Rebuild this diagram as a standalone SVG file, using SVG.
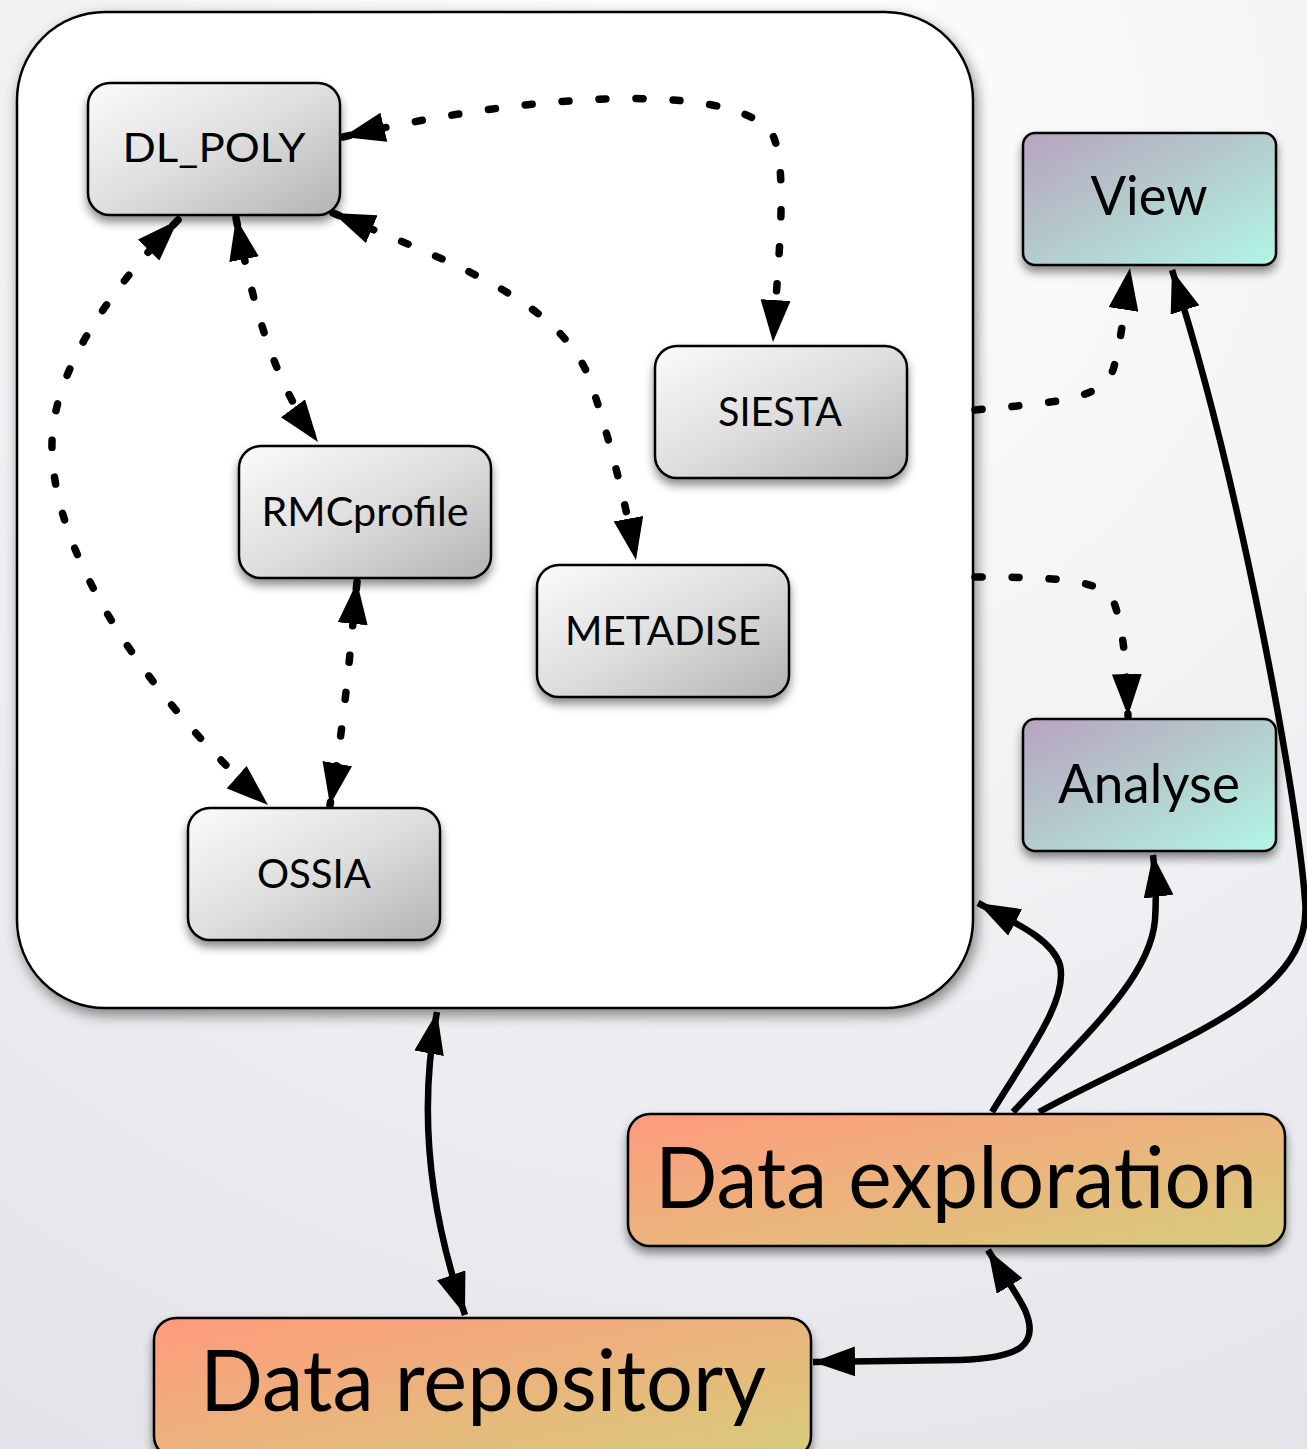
<svg xmlns="http://www.w3.org/2000/svg" width="1307" height="1449" viewBox="0 0 1307 1449">
<defs>
  <radialGradient id="bg" cx="750" cy="150" r="1500" gradientUnits="userSpaceOnUse">
    <stop offset="0" stop-color="#ffffff"/>
    <stop offset="1" stop-color="#e2e3e8"/>
  </radialGradient>
  <linearGradient id="gGray" x1="0" y1="0" x2="1" y2="1">
    <stop offset="0" stop-color="#fbfbfb"/>
    <stop offset="0.5" stop-color="#dedede"/>
    <stop offset="1" stop-color="#b3b3b3"/>
  </linearGradient>
  <linearGradient id="gTeal" x1="0" y1="0" x2="1" y2="1">
    <stop offset="0" stop-color="#b7a3bf"/>
    <stop offset="0.5" stop-color="#b4cccd"/>
    <stop offset="1" stop-color="#b2f6e6"/>
  </linearGradient>
  <linearGradient id="gOrange" x1="0" y1="0" x2="1" y2="1">
    <stop offset="0" stop-color="#ff9a7d"/>
    <stop offset="0.5" stop-color="#ebb47c"/>
    <stop offset="1" stop-color="#d6cc7c"/>
  </linearGradient>
  <filter id="shadow" x="-10%" y="-10%" width="130%" height="140%">
    <feDropShadow dx="0" dy="6" stdDeviation="5" flood-color="#000" flood-opacity="0.45"/>
  </filter>
  <filter id="shadowBig" x="-5%" y="-5%" width="115%" height="115%">
    <feDropShadow dx="3" dy="6" stdDeviation="7" flood-color="#000" flood-opacity="0.45"/>
  </filter>
  <marker id="arr" viewBox="0 0 42 30" refX="42" refY="15" markerWidth="42" markerHeight="30" markerUnits="userSpaceOnUse" orient="auto-start-reverse">
    <path d="M0,0 L42,15 L0,30 Z" fill="#000"/>
  </marker>
  <style>
    .node { stroke: #000; stroke-width: 2.5; filter: url(#shadow); }
    .gray { fill: url(#gGray); }
    .teal { fill: url(#gTeal); }
    .orange { fill: url(#gOrange); }
    text { font-family: Lato, "Open Sans", "Liberation Sans", sans-serif; fill: #000; text-anchor: middle; }
    .t1 { font-size: 40px; }
    .t2 { font-size: 55px; }
    .t3 { font-size: 86px; }
    .dot { fill: none; stroke: #000; stroke-width: 7.5; stroke-linecap: round; stroke-dasharray: 7 30; }
    .solid { fill: none; stroke: #000; stroke-width: 6.5; }
  </style>
</defs>
<rect x="0" y="0" width="1307" height="1449" fill="url(#bg)"/>

<g id="container">
  <rect x="17" y="12" width="956" height="996" rx="88" ry="88" fill="#ffffff" stroke="#000" stroke-width="2.5" filter="url(#shadowBig)"/>
</g>

<g id="connectors">
  <path class="dot" d="M343,137 C520,95 720,80 770,130 C790,160 778,260 773,342" marker-start="url(#arr)" marker-end="url(#arr)"/>
  <path class="dot" d="M333,213 C450,262 560,300 590,380 C610,440 625,500 636,560" marker-start="url(#arr)" marker-end="url(#arr)"/>
  <path class="dot" d="M236,218 C252,300 272,380 318,442" marker-start="url(#arr)" marker-end="url(#arr)"/>
  <path class="dot" d="M178,220 C100,300 50,380 52,450 C55,560 150,700 268,805" marker-start="url(#arr)" marker-end="url(#arr)"/>
  <path class="dot" d="M357,582 C350,650 345,720 330,805" marker-start="url(#arr)" marker-end="url(#arr)"/>
  <path class="dot" d="M975,410 C1060,402 1100,400 1113,370 C1122,340 1125,300 1130,268" marker-end="url(#arr)"/>
  <path class="dot" d="M975,577 C1060,577 1100,580 1113,600 C1125,630 1127,680 1128,716" marker-end="url(#arr)"/>

  <path class="solid" d="M992,1112 C1030,1050 1068,1000 1060,965 C1052,940 1020,925 978,903" marker-end="url(#arr)"/>
  <path class="solid" d="M1013,1112 C1080,1040 1150,980 1155,920 C1157,890 1155,870 1153,855" marker-end="url(#arr)"/>
  <path class="solid" d="M1039,1112 C1170,1040 1315,1000 1305,900 C1298,800 1240,480 1172,270" marker-end="url(#arr)"/>
  <path class="solid" d="M437,1012 C420,1100 425,1200 465,1315" marker-start="url(#arr)" marker-end="url(#arr)"/>
  <path class="solid" d="M813,1362 L960,1360 C1020,1358 1040,1345 1025,1310 C1015,1290 1000,1270 988,1250" marker-start="url(#arr)" marker-end="url(#arr)"/>
</g>

<g id="dlpoly">
  <rect class="node gray" x="88" y="83" width="252" height="132" rx="22"/>
  <text class="t1" x="214" y="162" textLength="183" lengthAdjust="spacingAndGlyphs">DL_POLY</text>
</g>
<g id="siesta">
  <rect class="node gray" x="655" y="346" width="252" height="132" rx="22"/>
  <text class="t1" x="780" y="426" textLength="124" lengthAdjust="spacingAndGlyphs">SIESTA</text>
</g>
<g id="rmcprofile">
  <rect class="node gray" x="239" y="446" width="252" height="132" rx="22"/>
  <text class="t1" x="365" y="526" textLength="207" lengthAdjust="spacingAndGlyphs">RMCprofile</text>
</g>
<g id="metadise">
  <rect class="node gray" x="537" y="565" width="252" height="132" rx="22"/>
  <text class="t1" x="663" y="645" textLength="196" lengthAdjust="spacingAndGlyphs">METADISE</text>
</g>
<g id="ossia">
  <rect class="node gray" x="188" y="808" width="252" height="132" rx="22"/>
  <text class="t1" x="314" y="888" textLength="114" lengthAdjust="spacingAndGlyphs">OSSIA</text>
</g>
<g id="view">
  <rect class="node teal" x="1023" y="133" width="253" height="132" rx="12"/>
  <text class="t2" x="1149" y="215" textLength="117" lengthAdjust="spacingAndGlyphs">View</text>
</g>
<g id="analyse">
  <rect class="node teal" x="1023" y="719" width="253" height="132" rx="12"/>
  <text class="t2" x="1149" y="803" textLength="182" lengthAdjust="spacingAndGlyphs">Analyse</text>
</g>
<g id="dataexploration">
  <rect class="node orange" x="628" y="1114" width="657" height="132" rx="22"/>
  <text class="t3" x="956" y="1208" textLength="602" lengthAdjust="spacingAndGlyphs">Data exploration</text>
</g>
<g id="datarepository">
  <rect class="node orange" x="154" y="1318" width="657" height="140" rx="22"/>
  <text class="t3" x="483" y="1411" textLength="566" lengthAdjust="spacingAndGlyphs">Data repository</text>
</g>
</svg>
